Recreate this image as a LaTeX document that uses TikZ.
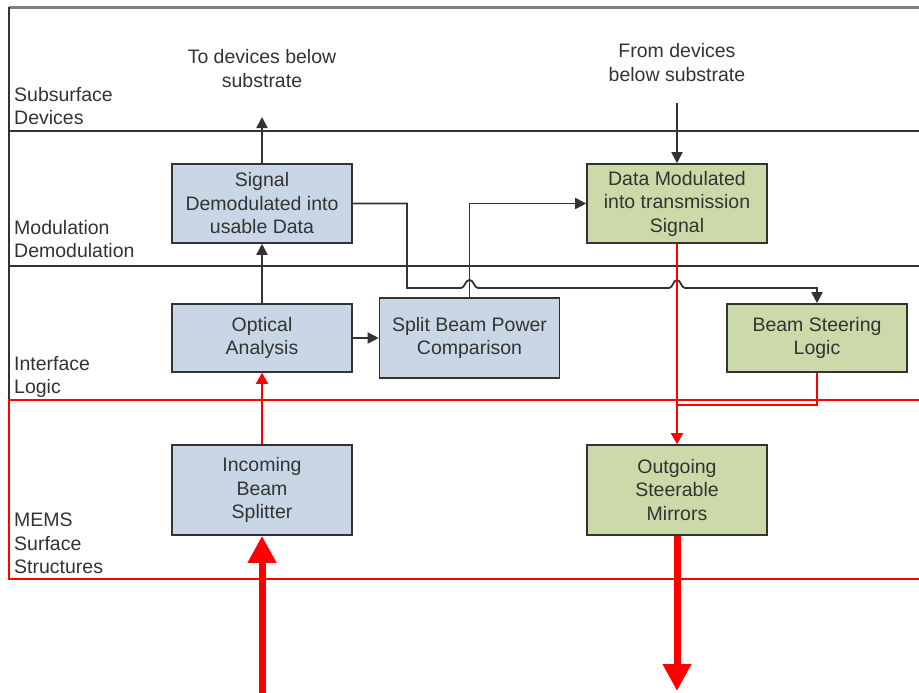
\documentclass[tikz,border=0pt]{standalone}
\usepackage{fontspec}
\setmainfont{Liberation Sans}
\usetikzlibrary{arrows.meta}
\definecolor{bluefill}{HTML}{C8D6E6}
\definecolor{greenfill}{HTML}{CCDAAA}
\definecolor{ink}{HTML}{333333}
\definecolor{topgray}{HTML}{7F7F7F}
\begin{document}
\begin{tikzpicture}[x=1pt,y=-1pt,
  txt/.style={font=\fontsize{19.5}{23.5}\selectfont, text=ink},
  box/.style={draw=ink, line width=1.6pt, minimum width=180pt, inner sep=0pt, align=center, txt},
  bluebox/.style={box, fill=bluefill},
  greenbox/.style={box, fill=greenfill},
  lbl/.style={txt, align=left, anchor=north west, inner sep=0pt},
  toplbl/.style={txt, align=center, inner sep=0pt},
  divider/.style={draw=ink, line width=1.7pt},
  conn/.style={draw=ink, line width=1.8pt, -{Triangle[length=11pt,width=11pt]}},
  redline/.style={draw=red, line width=1.6pt},
  redconn/.style={redline, -{Triangle[length=11pt,width=12pt]}},
  bigred/.style={draw=red, line width=7pt, -{Triangle[length=27pt,width=27pt]}}]
\useasboundingbox (0,0) rectangle (919,693);
\fill[white] (0,0) rectangle (919,693);

% frame and layer dividers
\draw[topgray, line width=2.8pt] (9,7.5) -- (919,7.5);
\draw[divider] (9,7.5) -- (9,400);
\draw[divider] (9,131) -- (919,131);
\draw[divider] (9,266) -- (919,266);
\draw[red, line width=1.7pt] (919,400) -- (9,400) -- (9,579) -- (919,579);

% layer labels
\node[lbl] (l1) at (14,87) {Subsurface\\Devices};
\node[lbl] (l2) at (14,220) {Modulation\\Demodulation};
\node[lbl] (l3) at (14,356) {Interface\\Logic};
\node[lbl] (l4) at (14,513) {MEMS\\Surface\\Structures};

% top texts
\node[toplbl] (tod) at (262,68.5) {To devices below\\substrate};
\node[toplbl] (frd) at (677,62.5) {From devices\\below substrate};

% boxes
\node[bluebox, minimum height=79pt] (sig) at (262,203.5) {Signal\\Demodulated into\\usable Data};
\node[greenbox, minimum height=79pt] (dm) at (677,203.5) {Data Modulated\\into transmission\\Signal};
\node[bluebox, minimum height=68pt] (opt) at (262,338) {Optical\\Analysis};
\node[bluebox, minimum height=80pt] (split) at (469.5,338) {Split Beam Power\\Comparison};
\node[greenbox, minimum height=68pt] (bsl) at (817,338) {Beam Steering\\Logic};
\node[bluebox, minimum height=90pt] (inc) at (262,490) {Incoming\\Beam\\Splitter};
\node[greenbox, minimum height=90pt] (out) at (677,490) {Outgoing\\Steerable\\Mirrors};

% free ends
\coordinate (todev) at (262,117);
\coordinate (fromdev) at (677,103);
\coordinate (join) at (677,405);
\coordinate (inbeam) at (262,693);
\coordinate (outbeam) at (677,691);

% black connectors
\draw[conn] (sig.north) -- (todev);
\draw[conn] (fromdev) -- (dm.north);
\draw[conn] (opt.north) -- (sig.south);
\draw[conn] (opt.east) -- (split.west);
\draw[conn] (split.north) |- (dm.west);
\draw[conn] (sig.east) -- (407,203.5) -- (407,288) -- (461,288)
  .. controls (465,288) and (465,280) .. (469.5,280)
  .. controls (474,280) and (474,288) .. (478,288) -- (669,288)
  .. controls (673,288) and (673,280) .. (677,280)
  .. controls (681,280) and (681,288) .. (685,288) -- (817,288) -- (bsl.north);

% red connectors
\draw[redconn] (inc.north) -- (opt.south);
\draw[redconn] (dm.south) -- (out.north);
\draw[redline] (bsl.south) |- (join);
\draw[bigred] (inbeam) -- (inc.south);
\draw[bigred] (out.south) -- (outbeam);
\end{tikzpicture}
\end{document}
